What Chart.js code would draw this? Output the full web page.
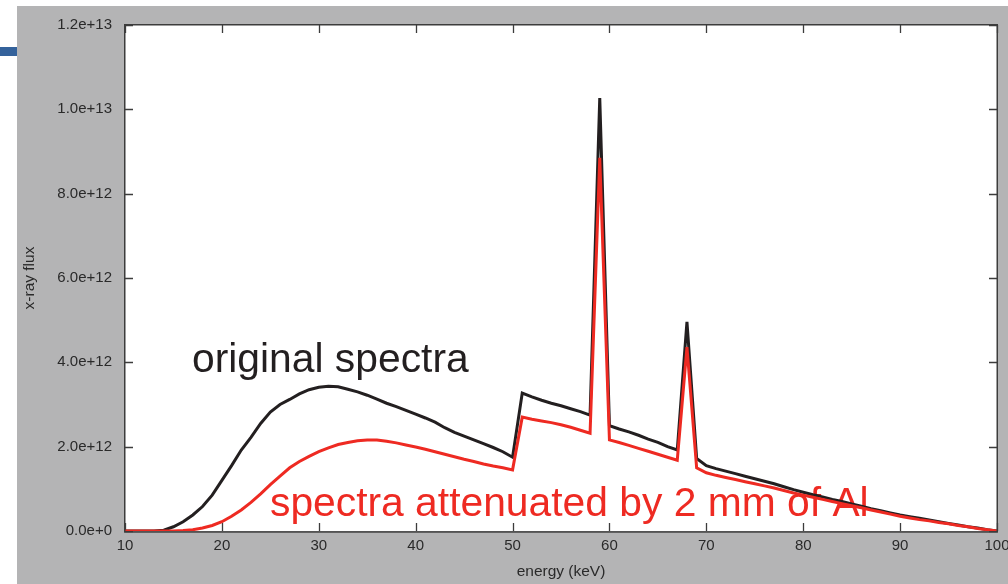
<!DOCTYPE html>
<html>
<head>
<meta charset="utf-8">
<script src="https://cdn.jsdelivr.net/npm/chart.js@4.4.0/dist/chart.umd.min.js"></script>
<style>
  html, body { margin: 0; padding: 0; background: #ffffff; }
  #wrap { width: 1008px; height: 584px; }
</style>
</head>
<body>
<div id="wrap"><canvas id="c" width="1008" height="584"></canvas></div>
<script>
// ---- data (flux values in units of 1e12) ----
const energies = [10,11,12,13,14,15,16,17,18,19,20,21,22,23,24,25,26,27,28,29,30,31,32,33,34,35,36,37,38,39,40,41,42,43,44,45,46,47,48,49,50,51,52,53,54,55,56,57,58,59,60,61,62,63,64,65,66,67,68,69,70,71,72,73,74,75,76,77,78,79,80,81,82,83,84,85,86,87,88,89,90,91,92,93,94,95,96,97,98,99,100];
const original = [0,0,0,0,0.02,0.1,0.22,0.38,0.58,0.85,1.2,1.55,1.92,2.22,2.55,2.82,3.0,3.12,3.25,3.35,3.41,3.43,3.42,3.36,3.3,3.22,3.13,3.03,2.95,2.86,2.77,2.68,2.58,2.45,2.34,2.25,2.16,2.07,1.98,1.88,1.75,3.27,3.18,3.1,3.03,2.97,2.9,2.83,2.75,10.27,2.5,2.42,2.35,2.27,2.18,2.1,2.0,1.92,4.96,1.72,1.55,1.48,1.42,1.36,1.3,1.24,1.18,1.12,1.05,0.98,0.92,0.86,0.81,0.75,0.7,0.64,0.59,0.53,0.48,0.43,0.38,0.34,0.3,0.26,0.22,0.18,0.14,0.1,0.07,0.03,0];
const attenuated = [0,0,0,0,0,0,0.01,0.03,0.07,0.13,0.22,0.35,0.5,0.68,0.88,1.1,1.3,1.5,1.65,1.77,1.88,1.97,2.05,2.1,2.14,2.16,2.16,2.13,2.09,2.04,1.99,1.94,1.88,1.82,1.76,1.7,1.65,1.59,1.54,1.5,1.45,2.7,2.65,2.61,2.57,2.52,2.46,2.39,2.32,8.85,2.16,2.1,2.03,1.96,1.89,1.82,1.75,1.68,4.36,1.5,1.38,1.32,1.27,1.22,1.17,1.12,1.07,1.02,0.96,0.9,0.85,0.8,0.75,0.7,0.65,0.6,0.55,0.5,0.45,0.4,0.35,0.31,0.27,0.24,0.2,0.17,0.13,0.1,0.06,0.03,0];
const yTickLabels = ['0.0e+0','2.0e+12','4.0e+12','6.0e+12','8.0e+12','1.0e+13','1.2e+13'];
const xTickLabels = ['10','20','30','40','50','60','70','80','90','100'];
const annotations = [
  { text: 'original spectra', color: '#231f20' },
  { text: 'spectra attenuated by 2 mm of Al', color: '#ee2a22' }
];
const UNIT = 1e12;

const FONT = '"Liberation Sans", Arial, Helvetica, sans-serif';
const AXIS_COLOR = '#3c3c3c';
const TEXT_COLOR = '#2a2a2a';

const toPoints = (vals) => energies.map((e, i) => ({ x: e, y: vals[i] * UNIT }));

const framePlugin = {
  id: 'frame',
  beforeDraw(chart) {
    const { ctx, chartArea: a, width, height } = chart;
    ctx.save();
    ctx.fillStyle = '#ffffff';
    ctx.fillRect(0, 0, width, height);
    ctx.fillStyle = '#b4b4b5';
    ctx.fillRect(17, 6, width - 17, height - 6);
    ctx.fillStyle = '#ffffff';
    ctx.fillRect(a.left, a.top, a.right - a.left, a.bottom - a.top);
    ctx.fillStyle = '#34629b';
    ctx.fillRect(0, 47, 17, 9);
    ctx.restore();
  },
  beforeDatasetsDraw(chart) {
    const { ctx, chartArea: a, scales } = chart;
    ctx.save();
    ctx.font = '40.8px ' + FONT;
    ctx.textBaseline = 'alphabetic';
    ctx.textAlign = 'left';
    ctx.fillStyle = annotations[0].color;
    ctx.fillText(annotations[0].text, 192, 372);
    ctx.fillStyle = annotations[1].color;
    ctx.fillText(annotations[1].text, 270, 516);

    ctx.strokeStyle = AXIS_COLOR;
    ctx.lineWidth = 1.3;
    const TL = 8;
    ctx.beginPath();
    scales.x.ticks.forEach(t => {
      const px = Math.round(scales.x.getPixelForValue(t.value)) + 0.5;
      ctx.moveTo(px, a.bottom); ctx.lineTo(px, a.bottom - TL);
      ctx.moveTo(px, a.top); ctx.lineTo(px, a.top + TL);
    });
    scales.y.ticks.forEach(t => {
      const py = Math.round(scales.y.getPixelForValue(t.value)) + 0.5;
      ctx.moveTo(a.left, py); ctx.lineTo(a.left + TL, py);
      ctx.moveTo(a.right, py); ctx.lineTo(a.right - TL, py);
    });
    ctx.stroke();
    ctx.restore();
  },
  afterDatasetsDraw(chart) {
    const { ctx, chartArea: a } = chart;
    ctx.save();
    ctx.strokeStyle = AXIS_COLOR;
    ctx.lineWidth = 1.5;
    ctx.strokeRect(a.left - 0.25, a.top - 0.25, a.right - a.left + 0.5, a.bottom - a.top + 1.2);
    ctx.restore();
  }
};

new Chart(document.getElementById('c'), {
  type: 'line',
  data: {
    datasets: [
      {
        label: 'spectra attenuated by 2 mm of Al',
        data: toPoints(attenuated),
        borderColor: '#ee2a22',
        borderWidth: 3,
        pointRadius: 0,
        tension: 0,
        fill: false
      },
      {
        label: 'original spectra',
        data: toPoints(original),
        borderColor: '#231f20',
        borderWidth: 3,
        pointRadius: 0,
        tension: 0,
        fill: false
      }
    ]
  },
  options: {
    responsive: false,
    animation: false,
    events: [],
    layout: { padding: { left: 17, top: 25, right: 11, bottom: 0 } },
    plugins: {
      legend: { display: false },
      tooltip: { enabled: false }
    },
    scales: {
      x: {
        type: 'linear',
        min: 10,
        max: 100,
        afterFit(scale) { scale.height = 53; scale.paddingLeft = 0; scale.paddingRight = 0; },
        grid: { display: false, drawTicks: false },
        border: { display: false },
        ticks: {
          stepSize: 10,
          padding: 6,
          color: TEXT_COLOR,
          font: { family: FONT, size: 15 },
          maxRotation: 0,
          autoSkip: false,
          callback: (v, i) => xTickLabels[i]
        },
        title: {
          display: true,
          text: 'energy (keV)',
          color: TEXT_COLOR,
          font: { family: FONT, size: 15.5 },
          padding: { top: 0, bottom: 2.7 }
        }
      },
      y: {
        type: 'linear',
        min: 0,
        max: 1.2e13,
        afterFit(scale) { scale.width = 108; scale.paddingTop = 0; scale.paddingBottom = 0; },
        grid: { display: false, drawTicks: false },
        border: { display: false },
        ticks: {
          stepSize: 2e12,
          padding: 13,
          color: TEXT_COLOR,
          font: { family: FONT, size: 15 },
          autoSkip: false,
          callback: (v, i) => yTickLabels[i]
        },
        title: {
          display: true,
          text: 'x-ray flux',
          color: TEXT_COLOR,
          font: { family: FONT, size: 15.5 },
          padding: { top: 3.2, bottom: 0 }
        }
      }
    }
  },
  plugins: [framePlugin]
});
</script>
</body>
</html>
